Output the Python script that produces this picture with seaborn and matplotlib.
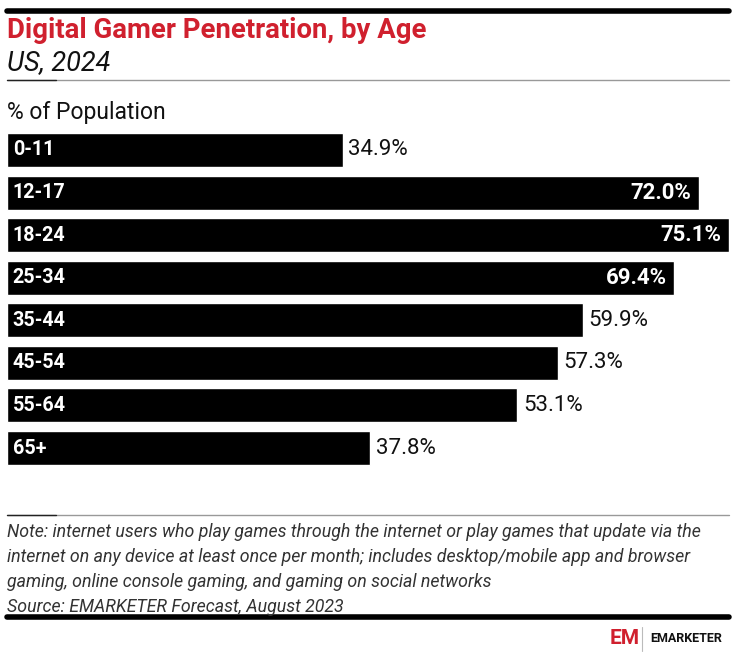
import matplotlib
matplotlib.use("Agg")
import matplotlib.pyplot as plt
import seaborn as sns
import pandas as pd
from matplotlib.lines import Line2D

ages = ["0-11", "12-17", "18-24", "25-34", "35-44", "45-54", "55-64", "65+"]
values = [34.9, 72.0, 75.1, 69.4, 59.9, 57.3, 53.1, 37.8]
inside_labels = [False, True, True, True, False, False, False, False]

title = "Digital Gamer Penetration, by Age"
subtitle = "US, 2024"
unit_label = "% of Population"
note = ("Note: internet users who play games through the internet or play games that update via the\n"
        "internet on any device at least once per month; includes desktop/mobile app and browser\n"
        "gaming, online console gaming, and gaming on social networks\n"
        "Source: EMARKETER Forecast, August 2023")

sns.set_theme(style="white")
plt.rcParams['font.family'] = ['Roboto', 'DejaVu Sans']

W, H = 736, 657
fig = plt.figure(figsize=(W / 100, H / 100), dpi=100)

def fx(x):
    return x / W

def fy(y):
    return 1 - y / H

# axes for bars
left, right = 7, 729
top, bottom = 128.7, 469.3
ax = fig.add_axes([fx(left), fy(bottom), fx(right - left), (bottom - top) / H])

df = pd.DataFrame({"age": ages, "value": values})
sns.barplot(data=df, x="value", y="age", orient="h", color="black",
            width=0.8, saturation=1, ax=ax)
ax.set_xlim(0, 75.1)
ax.set_ylim(7.5, -0.5)
ax.axis("off")

for i, (a, v, ins) in enumerate(zip(ages, values, inside_labels)):
    ax.text(0.6, i, a, color="white", fontsize=14.2, fontweight="bold",
            va="center", ha="left")
    lab = f"{v:.1f}%"
    if ins:
        ax.text(v - 0.8, i, lab, color="white", fontsize=16, fontweight="bold",
                va="center", ha="right")
    else:
        ax.text(v + 0.6, i, lab, color="#111111", fontsize=16,
                va="center", ha="left")

# top thick rule
fig.add_artist(Line2D([fx(7), fx(729)], [fy(10.5), fy(10.5)], color="black", lw=4))
# title
fig.text(fx(7), fy(31), title, color="#d0202e", fontsize=19.8, fontweight="bold",
         va="center", ha="left")
fig.text(fx(7), fy(63), subtitle, color="#111111", fontsize=19.5, style="italic",
         va="center", ha="left")
# thin rule below subtitle
fig.add_artist(Line2D([fx(7), fx(729)], [fy(80), fy(80)], color="#999999", lw=1))
fig.add_artist(Line2D([fx(7), fx(56)], [fy(80), fy(80)], color="#222222", lw=1))
fig.text(fx(7), fy(113), unit_label, color="#111111", fontsize=16.5,
         va="center", ha="left")

# bottom rule
fig.add_artist(Line2D([fx(7), fx(729)], [fy(515), fy(515)], color="#999999", lw=1))
fig.add_artist(Line2D([fx(7), fx(56)], [fy(515), fy(515)], color="#222222", lw=1))
fig.text(fx(7), fy(523), note, color="#333333", fontsize=12.8, style="italic",
         va="top", ha="left", linespacing=1.5)
fig.add_artist(Line2D([fx(7), fx(729)], [fy(617), fy(617)], color="black", lw=4))

# logo
fig.text(fx(610), fy(639), "EM", color="#d0202e", fontsize=15, fontweight="bold",
         va="center", ha="left")
fig.add_artist(Line2D([fx(642), fx(642)], [fy(627), fy(651)], color="#bbbbbb", lw=0.8))
fig.text(fx(650), fy(639), "EMARKETER", color="#111111", fontsize=9, fontweight="bold",
         va="center", ha="left")

fig.savefig("out.png", dpi=100, facecolor="white")
